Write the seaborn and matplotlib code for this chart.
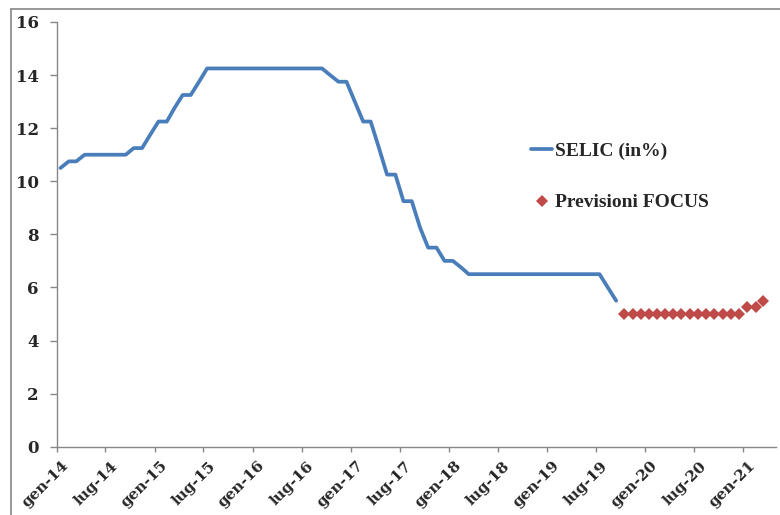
import matplotlib
matplotlib.use("Agg")
import matplotlib.pyplot as plt
import matplotlib.transforms as mtransforms
from matplotlib.lines import Line2D
import seaborn as sns
import pandas as pd

# ---------------- data ----------------
selic_start = "2014-01-15"
selic_values = [
    10.5, 10.75, 10.75, 11.0, 11.0, 11.0, 11.0, 11.0, 11.0, 11.25, 11.25, 11.75,   # 2014
    12.25, 12.25, 12.75, 13.25, 13.25, 13.75, 14.25, 14.25, 14.25, 14.25, 14.25, 14.25,  # 2015
    14.25, 14.25, 14.25, 14.25, 14.25, 14.25, 14.25, 14.25, 14.25, 14.0, 13.75, 13.75,  # 2016
    13.0, 12.25, 12.25, 11.25, 10.25, 10.25, 9.25, 9.25, 8.25, 7.5, 7.5, 7.0,  # 2017
    7.0, 6.75, 6.5, 6.5, 6.5, 6.5, 6.5, 6.5, 6.5, 6.5, 6.5, 6.5,  # 2018
    6.5, 6.5, 6.5, 6.5, 6.5, 6.5, 6.5, 6.0, 5.5,  # 2019
]
focus_start = "2019-10-15"
focus_values = [5.0] * 15 + [5.25, 5.25, 5.5]

tick_labels = ["gen-14", "lug-14", "gen-15", "lug-15", "gen-16", "lug-16",
               "gen-17", "lug-17", "gen-18", "lug-18", "gen-19", "lug-19",
               "gen-20", "lug-20", "gen-21"]
tick_dates = pd.date_range("2014-01-01", periods=len(tick_labels), freq="6MS")
series_names = ["SELIC (in%)", "Previsioni FOCUS"]

selic_dates = pd.date_range(pd.Timestamp(selic_start).replace(day=1),
                            periods=len(selic_values), freq="MS") + pd.Timedelta(days=14)
focus_dates = pd.date_range(pd.Timestamp(focus_start).replace(day=1),
                            periods=len(focus_values), freq="MS") + pd.Timedelta(days=14)

df_selic = pd.DataFrame({"data": selic_dates, "valore": selic_values})
df_focus = pd.DataFrame({"data": focus_dates, "valore": focus_values})

# ---------------- style ----------------
sns.set_style("white")
plt.rcParams["font.family"] = ["DejaVu Serif"]
BLUE = "#4A7EBB"
RED = "#BE4B48"
GRAY = "#868686"

fig = plt.figure(figsize=(7.8, 5.15), dpi=100)
ax = fig.add_axes([56.7 / 780, 1 - 446.7 / 515, (775.7 - 56.7) / 780, (446.7 - 22) / 515])

sns.lineplot(data=df_selic, x="data", y="valore", ax=ax, color=BLUE,
             linewidth=2.7, label=series_names[0])
sns.lineplot(data=df_focus, x="data", y="valore", ax=ax, color=RED,
             linestyle="none", marker="D", markersize=6.3, markeredgewidth=0,
             label=series_names[1])

ax.set_xlim(pd.Timestamp("2014-01-01"), pd.Timestamp("2021-05-01"))
ax.set_ylim(0, 16)
ax.set_yticks(range(0, 17, 2))
ax.set_xticks(tick_dates)
ax.set_xticklabels(tick_labels)
ax.set_xlabel("")
ax.set_ylabel("")

for s in ["top", "right"]:
    ax.spines[s].set_visible(False)
for s in ["left", "bottom"]:
    ax.spines[s].set_color(GRAY)
    ax.spines[s].set_linewidth(1.0)

ax.tick_params(axis="y", which="major", direction="out", length=5, width=1.0,
               color=GRAY, pad=8, labelsize=12, left=True)
ax.tick_params(axis="x", which="major", direction="out", length=3.8, width=1.0,
               color=GRAY, pad=2, labelsize=11, bottom=True)
for lab in ax.get_yticklabels():
    lab.set_fontweight("bold")
offset = mtransforms.ScaledTranslation(5 / 100, -4 / 100, fig.dpi_scale_trans)
for lab in ax.get_xticklabels():
    lab.set_fontweight("bold")
    lab.set_rotation(45)
    lab.set_ha("right")
    lab.set_va("top")
    lab.set_rotation_mode("anchor")
    lab.set_transform(lab.get_transform() + offset)

handles, labels = ax.get_legend_handles_labels()
leg = ax.legend(handles, labels, loc="upper left",
                bbox_to_anchor=(531.0 / 780, 1 - 142 / 515),
                bbox_transform=fig.transFigure, frameon=False,
                prop={"family": "Liberation Serif", "weight": "bold", "size": 14},
                handlelength=1.1, handletextpad=0.15, labelspacing=1.75,
                borderpad=0, borderaxespad=0)

# chart-area border (top and left edges visible in the frame)
fig.add_artist(Line2D([11 / 780, 1.0], [1 - 9 / 515, 1 - 9 / 515],
                      transform=fig.transFigure, color=GRAY, linewidth=1.2))
fig.add_artist(Line2D([11 / 780, 11 / 780], [0.0, 1 - 9 / 515],
                      transform=fig.transFigure, color=GRAY, linewidth=1.2))

fig.savefig("out.png", dpi=100)
